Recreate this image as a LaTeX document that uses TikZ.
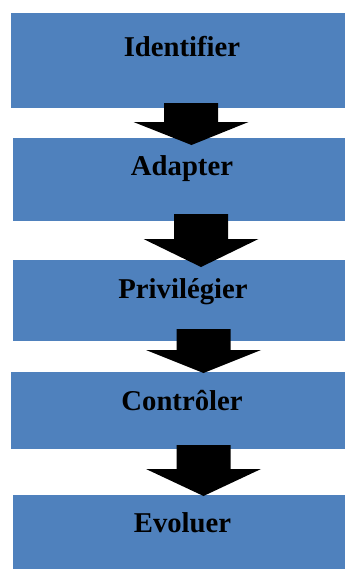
\documentclass[tikz,border=0pt]{standalone}
\usepackage{fontspec}
\setmainfont{Liberation Serif}
\usetikzlibrary{calc}
\definecolor{stepblue}{HTML}{4F81BD}
\tikzset{
  stepbox/.style={fill=stepblue, draw=none, inner sep=0pt, anchor=north west},
  steplabel/.style={font=\bfseries\fontsize{28.7}{32}\selectfont, text=black, inner sep=0pt, anchor=base},
  blockarrow/.style={fill=black, draw=none,
    to path={let \p1=(\tikztostart), \p2=(\tikztotarget) in
      (\x1-27pt,\y1) -- (\x1+27pt,\y1) -- (\x1+27pt,\y2+#1) -- (\x1+57.5pt,\y2+#1)
      -- (\x2,\y2) -- (\x1-57.5pt,\y2+#1) -- (\x1-27pt,\y2+#1) -- cycle}},
}
\begin{document}
\begin{tikzpicture}[x=1pt,y=-1pt]
  \useasboundingbox (0,0) rectangle (345,570);

  % process steps
  \node[stepbox, minimum width=334pt, minimum height=95pt] (b1) at (11,13) {};
  \node[stepbox, minimum width=332pt, minimum height=83pt] (b2) at (13,138) {};
  \node[stepbox, minimum width=332pt, minimum height=81pt] (b3) at (13,260) {};
  \node[stepbox, minimum width=334pt, minimum height=77pt] (b4) at (11,372) {};
  \node[stepbox, minimum width=332pt, minimum height=74pt] (b5) at (13,495) {};

  \node[steplabel] (l1) at (182,56) {Identifier};
  \node[steplabel] (l2) at (182,175) {Adapter};
  \node[steplabel] (l3) at (183,298) {Privilégier};
  \node[steplabel] (l4) at (182,410) {Contrôler};
  \node[steplabel] (l5) at (182.5,532) {Evoluer};

  % arrow ends
  \coordinate (a1s) at (191,103);   \coordinate (a1e) at (191.5,145);
  \coordinate (a2s) at (201,214);   \coordinate (a2e) at (201,267);
  \coordinate (a3s) at (203.5,329); \coordinate (a3e) at (203.5,373);
  \coordinate (a4s) at (203.5,445); \coordinate (a4e) at (203.5,496);

  \path[blockarrow=23pt] (a1s) to (a1e);
  \path[blockarrow=28pt] (a2s) to (a2e);
  \path[blockarrow=23pt] (a3s) to (a3e);
  \path[blockarrow=27pt] (a4s) to (a4e);
\end{tikzpicture}
\end{document}
